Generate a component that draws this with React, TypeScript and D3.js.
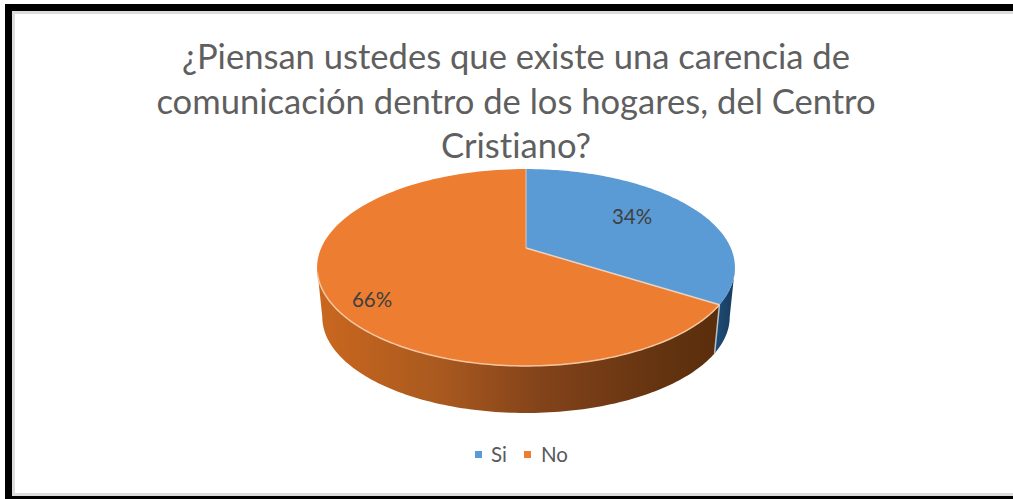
import React from "react";
import * as d3 from "d3";

const titleLines = [
  "¿Piensan ustedes que existe una carencia de",
  "comunicación dentro de los hogares, del Centro",
  "Cristiano?",
];
const categories = ["Si", "No"];
const shares = [34, 66];
const labels = ["34%", "66%"];
const topColors = ["#5b9bd5", "#ed7d31"];

const W = 1013;
const H = 499;
const cx = 526;
const apexY = 248;
const k = 0.198;
const a = 204.8;
const b = 94.6;
const floorScale = 0.975;
const floorY = 298;

type P = [number, number];
const project = (t: number, y0: number, s: number, r = 1): P => {
  const u = Math.sin(t) * r;
  const v = Math.cos(t) * r;
  const w = 1 + k * v;
  return [cx + (s * a * u) / w, y0 - (s * b * v) / w];
};
const top = (t: number, r = 1) => project(t, apexY, 1, r);
const floor = (t: number) => project(t, floorY, floorScale);
const samples = (t0: number, t1: number) =>
  d3.range(0, 121).map((i) => t0 + ((t1 - t0) * i) / 120);
const line = d3.line<P>().curve(d3.curveLinear);

const arcs = d3.pie<number>().sort(null)(shares);
const silhouette = Math.PI / 2 + Math.asin(k);
const wallFrom = (s: d3.PieArcDatum<number>) => Math.max(s.startAngle, silhouette);
const wallTo = (s: d3.PieArcDatum<number>) => Math.min(s.endAngle, 2 * Math.PI - silhouette);

const wallPath = (s: d3.PieArcDatum<number>) => {
  const ts = samples(wallFrom(s), wallTo(s));
  return line([...ts.map((t) => top(t)), ...ts.slice().reverse().map((t) => floor(t))]) + "Z";
};
const topPath = (s: d3.PieArcDatum<number>) =>
  line([[cx, apexY], ...samples(s.startAngle, s.endAngle).map((t) => top(t))]) + "Z";

const boundary = arcs[0].endAngle;
const frontRim = samples(boundary, 2 * Math.PI - silhouette - 0.05).map((t) => top(t));
const labelPos: P[] = [
  [632, 217],
  [372, 300],
];

export default function App() {
  return (
    <svg
      width={W}
      height={H}
      viewBox={`0 0 ${W} ${H}`}
      style={{
        position: "absolute",
        left: 0,
        top: 0,
        fontFamily: "Lato, 'Open Sans', sans-serif",
        fontVariantLigatures: "none",
      }}
    >
      <defs>
        <linearGradient id="orangeWall" gradientUnits="userSpaceOnUse" x1={320} x2={720} y1={0} y2={0}>
          <stop offset="0" stopColor="#c9671f" />
          <stop offset="0.3" stopColor="#a9591f" />
          <stop offset="0.55" stopColor="#83431a" />
          <stop offset="0.85" stopColor="#643410" />
          <stop offset="1" stopColor="#5a2d0c" />
        </linearGradient>
        <linearGradient id="blueWall" gradientUnits="userSpaceOnUse" x1={714} x2={735} y1={0} y2={0}>
          <stop offset="0" stopColor="#1e4e79" />
          <stop offset="1" stopColor="#173b5c" />
        </linearGradient>
      </defs>
      <rect x={0} y={0} width={W} height={H} fill="#ffffff" />
      <rect x={5} y={4} width={W - 5} height={H - 4} fill="#000000" />
      <rect x={12} y={11} width={W - 12} height={485} fill="#dcdcdc" />
      <rect x={15} y={14} width={W - 15} height={479} fill="#ffffff" />

      <text fill="#5f5f5f" fontSize={34.6} textAnchor="middle">
        {titleLines.map((l, i) => (
          <tspan key={l} x={516} y={69 + i * 44.7}>
            {l}
          </tspan>
        ))}
      </text>

      <path d={wallPath(arcs[0])} fill="url(#blueWall)" />
      <path d={wallPath(arcs[1])} fill="url(#orangeWall)" />
      <line
        x1={top(boundary)[0]}
        y1={top(boundary)[1]}
        x2={floor(boundary)[0]}
        y2={floor(boundary)[1]}
        stroke="#b9c0c6"
        strokeWidth={1.5}
      />
      {arcs.map((s, i) => (
        <path key={categories[i]} d={topPath(s)} fill={topColors[i]} />
      ))}
      <path d={line(frontRim) ?? ""} fill="none" stroke="#f6c6a2" strokeWidth={1.5} />
      <path
        d={line([[cx, apexY], top(boundary)]) ?? ""}
        fill="none"
        stroke="#e9d3c3"
        strokeWidth={1.5}
      />
      <path d={line([[cx, apexY], top(0)]) ?? ""} fill="none" stroke="#e9c7ae" strokeWidth={1} />

      {labels.map((l, i) => (
        <text key={l} x={labelPos[i][0]} y={labelPos[i][1] + 7} fontSize={20.5} fill="#404040" textAnchor="middle">
          {l}
        </text>
      ))}

      {categories.map((c, i) => (
        <g key={c}>
          <rect x={i === 0 ? 475 : 524} y={451} width={7} height={7} fill={topColors[i]} />
          <text x={i === 0 ? 491 : 541} y={462} fontSize={20.5} fill="#595959">
            {c}
          </text>
        </g>
      ))}
    </svg>
  );
}
